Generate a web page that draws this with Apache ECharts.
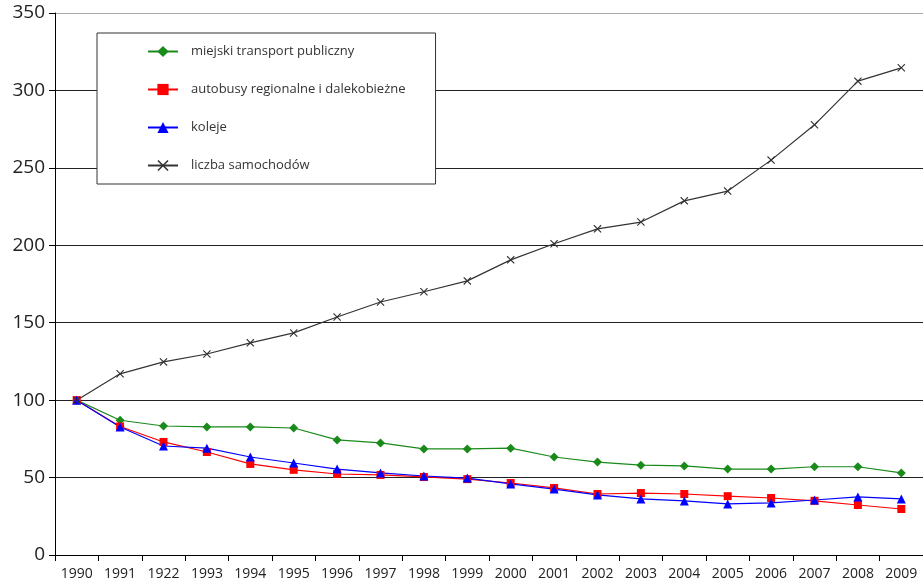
<!DOCTYPE html>
<html><head><meta charset="utf-8">
<script src="https://cdn.jsdelivr.net/npm/echarts@6/dist/echarts.min.js"></script>
<style>html,body{margin:0;padding:0;background:#fff}#c{width:923px;height:586px}</style>
</head><body><div id="c"></div>
<script>
const years = ['1990','1991','1922','1993','1994','1995','1996','1997','1998','1999','2000','2001','2002','2003','2004','2005','2006','2007','2008','2009'];
const yTicks = [0,50,100,150,200,250,300,350];
const miejski = [100,87,83.3,82.7,82.7,82,74.3,72.4,68.5,68.5,69,63.3,60,58,57.5,55.5,55.5,57,57,53];
const autobusy = [100,83,73,66.5,58.8,55,52.3,51.7,50.4,49,46.5,43.3,39.4,40,39.4,38,36.8,35,32.3,29.7];
const koleje = [100,82.7,70.4,69,63.3,59.4,55.5,53,51,49.7,45.9,42.6,38.8,36.2,34.9,33,33.6,35.5,37.5,36.2];
const samochody = [100,117,124.7,129.8,137,143.4,153.7,163.4,170,177,190.6,201,210.6,215,228.7,235,255,277.8,306,314.6];

const xPath = 'path://M0,1 L1,0 L5,4 L9,0 L10,1 L6,5 L10,9 L9,10 L5,6 L1,10 L0,9 L4,5 Z';
const font = '"Open Sans", "Noto Sans", sans-serif';
const chart = echarts.init(document.getElementById('c'), null, {renderer:'canvas'});
function s(name, data, color, symbol, size) {
  return {name, type:'line', data, symbol, symbolSize:size, showAllSymbol:true,
    lineStyle:{color, width:1.2}, itemStyle:{color}, animation:false};
}
chart.setOption({
  animation:false,
  textStyle:{fontFamily:font},
  grid:{left:55, top:13, right:0, bottom:31},
  legend:{
    orient:'vertical', left:97, top:33,
    padding:[12,30,12,50], itemGap:25, itemWidth:30, itemHeight:14,
    borderColor:'#333', borderWidth:1, backgroundColor:'#fff',
    textStyle:{fontFamily:font, fontSize:13, color:'#333', padding:[0,0,0,8]},
    data:['miejski transport publiczny','autobusy regionalne i dalekobieżne','koleje','liczba samochodów']
  },
  xAxis:{type:'category', data:years, boundaryGap:true,
    axisLine:{lineStyle:{color:'#000', width:1}},
    axisTick:{show:true, interval:0, length:6, lineStyle:{color:'#000'}},
    axisLabel:{interval:0, fontSize:14, color:'#222', margin:12, fontFamily:font}},
  yAxis:{type:'value', min:0, max:350, interval:50,
    axisLine:{show:true, lineStyle:{color:'#000', width:1}},
    axisTick:{show:true, length:6, lineStyle:{color:'#000'}},
    axisLabel:{fontSize:19, color:'#222', margin:10, fontFamily:font},
    splitLine:{lineStyle:{color:['#222','#222','#222','#222','#222','#222','#222','#aaa'], width:1}}},
  series:[
    s('miejski transport publiczny', miejski, '#1a8a1a', 'diamond', 9),
    s('autobusy regionalne i dalekobieżne', autobusy, '#ff0000', 'rect', 8),
    s('koleje', koleje, '#0000ff', 'triangle', 9),
    s('liczba samochodów', samochody, '#333333', xPath, 8)
  ]
});
</script></body></html>
